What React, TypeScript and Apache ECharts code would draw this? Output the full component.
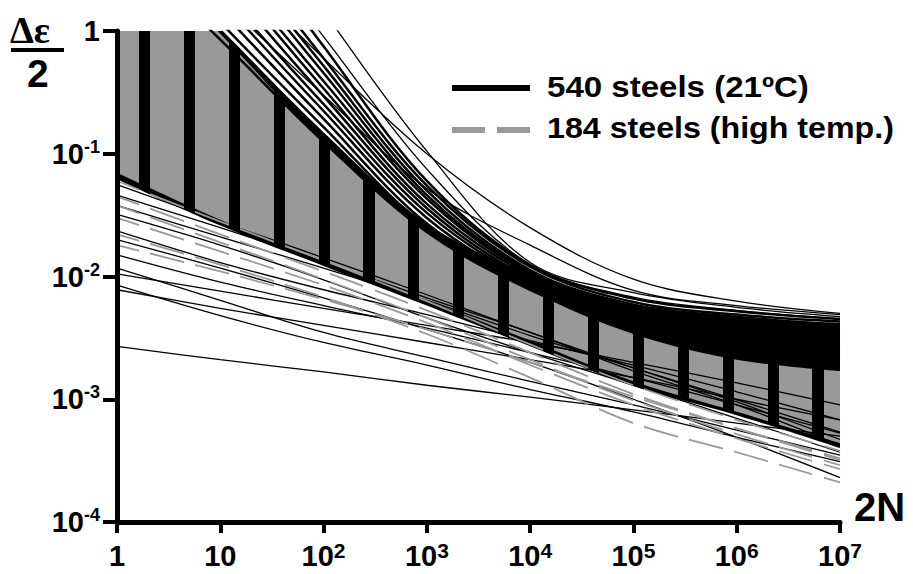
import React, { useEffect, useRef } from "react";
import * as echarts from "echarts";

// ---------------- data ----------------
// number of reversals 2N at which every curve is sampled
const cycles = [1, 10, 100, 1000, 10000, 100000, 1000000, 10000000];
const xTickLabels = ["1", "10", "10^2", "10^3", "10^4", "10^5", "10^6", "10^7"];
const yTickLabels = ["10^-4", "10^-3", "10^-2", "10^-1", "1"];
const roomLegend = "540 steels (21ºC)";
const hotLegend = "184 steels (high temp.)";

// envelope of the dense, overlapping 540-steel bundle (strain amplitude)
const roomCoreTop = [7.4, 1.05, 0.15, 0.027, 0.0105, 0.006, 0.0047, 0.0042];
const roomCoreBottom = [0.062, 0.026, 0.0122, 0.0058, 0.0027, 0.00128, 0.00074, 0.0004];
// envelope of the dense 184-steel (high temperature) bundle
const hotCoreTop = [6.8, 0.95, 0.125, 0.023, 0.0077, 0.0034, 0.0021, 0.0017];
const hotCoreBottom = [0.07, 0.029, 0.0133, 0.0064, 0.003, 0.0014, 0.00079, 0.00044];

// individual 21ºC curves on the upper side of the bundle
const roomDense = [
  [177, 10.4, 0.75, 0.06, 0.0124, 0.0066, 0.0052, 0.0045],
  [105, 7.4, 0.6, 0.055, 0.012, 0.0062, 0.0049, 0.0043],
  [76, 5.9, 0.52, 0.05, 0.0113, 0.0059, 0.0047, 0.004],
  [62, 5.0, 0.455, 0.046, 0.0109, 0.0056, 0.0044, 0.0037],
  [46, 4.0, 0.39, 0.043, 0.0105, 0.0054, 0.0041, 0.0034],
  [37, 3.4, 0.34, 0.039, 0.0101, 0.0051, 0.0038, 0.0031],
  [28, 2.75, 0.295, 0.036, 0.0096, 0.0048, 0.0035, 0.0028],
  [20.5, 2.16, 0.254, 0.033, 0.0092, 0.0045, 0.0032, 0.0026],
  [16.7, 1.82, 0.223, 0.03, 0.0088, 0.0043, 0.003, 0.0024],
  [12.6, 1.48, 0.192, 0.027, 0.0084, 0.0041, 0.0028, 0.0022],
  [9.3, 1.18, 0.165, 0.025, 0.0081, 0.0039, 0.0026, 0.0021],
  [5.5, 0.85, 0.125, 0.023, 0.0078, 0.0037, 0.0024, 0.0019],
];
// 21ºC curves standing out above the bundle
const roomUpper = [
  [370, 22, 1.45, 0.105, 0.013, 0.0074, 0.0056, 0.0047],
  [10, 1.8, 0.3, 0.052, 0.018, 0.0077, 0.0058, 0.0049],
  [25, 4, 0.6, 0.1, 0.025, 0.0095, 0.0063, 0.005],
  [155, 11, 0.9, 0.075, 0.0125, 0.0068, 0.0053, 0.0045],
];
// 21ºC curves below the bundle
const roomLower = [
  [0.0027, 0.0021, 0.00167, 0.0013, 0.00104, 0.00082, 0.00064, 0.0005],
  [0.0085, 0.0048, 0.0029, 0.0019, 0.0012, 0.00079, 0.00049, 0.00031],
  [0.0117, 0.0064, 0.0035, 0.0022, 0.0014, 0.0009, 0.00056, 0.00035],
  [0.015, 0.009, 0.0058, 0.0038, 0.0024, 0.0015, 0.0009, 0.00053],
  [0.0078, 0.0055, 0.004, 0.0029, 0.0021, 0.0015, 0.001, 0.00068],
  [0.0235, 0.013, 0.0078, 0.0049, 0.003, 0.0019, 0.00115, 0.00068],
  [0.0105, 0.0076, 0.0055, 0.004, 0.0029, 0.002, 0.00136, 0.0009],
  [0.032, 0.018, 0.0094, 0.0046, 0.0024, 0.0013, 0.0007, 0.00037],
  [0.038, 0.021, 0.0117, 0.0064, 0.0033, 0.0018, 0.00099, 0.00054],
  [0.02, 0.0117, 0.0067, 0.0037, 0.002, 0.001, 0.00049, 0.00023],
  [0.056, 0.028, 0.0142, 0.0071, 0.0035, 0.0018, 0.00095, 0.00047],
  [0.046, 0.025, 0.0131, 0.0067, 0.0035, 0.0017, 0.0009, 0.00042],
];
// high temperature curves below their bundle
const hotLower = [
  [0.022, 0.0125, 0.0068, 0.0034, 0.0015, 0.00064, 0.00037, 0.00021],
  [0.03, 0.016, 0.0085, 0.0042, 0.0019, 0.0009, 0.00048, 0.00027],
  [0.045, 0.022, 0.011, 0.0053, 0.0024, 0.0011, 0.00058, 0.00032],
  [0.06, 0.028, 0.0135, 0.0063, 0.0028, 0.0013, 0.00068, 0.00038],
  [0.018, 0.011, 0.0065, 0.0037, 0.002, 0.00105, 0.00058, 0.00033],
  [0.038, 0.019, 0.0095, 0.0046, 0.0021, 0.00098, 0.00052, 0.00029],
];

// ---------------- styling ----------------
const W = 913;
const H = 574;
const GRAY = "#999999";
const FONT = '"Liberation Sans", Arial, sans-serif';

// dash gaps of the high-temperature curves, which line up vertically
function dashGradient() {
  const clear = "rgba(153,153,153,0)";
  const stops: { offset: number; color: string }[] = [{ offset: 0, color: GRAY }];
  for (let k = 0; k < 16; k++) {
    const s = (139 + 44.9 * k) / W;
    const e = (150 + 44.9 * k) / W;
    stops.push({ offset: s, color: GRAY }, { offset: s, color: clear }, { offset: e, color: clear }, { offset: e, color: GRAY });
  }
  stops.push({ offset: 1, color: GRAY });
  return new echarts.graphic.LinearGradient(0, 0, W, 0, stops, true);
}

const rows = (vals: number[]) => cycles.map((c, i) => [vals[i], c]);

const lineCommon: any = {
  type: "line",
  smooth: 0.35,
  symbol: "none",
  showSymbol: false,
  silent: true,
  encode: { x: 1, y: 0 },
  emphasis: { disabled: true },
  animation: false,
};

function band(stack: string, top: number[], bottom: number[], color: any) {
  return [
    { ...lineCommon, name: stack + " base", stack, data: rows(bottom), lineStyle: { width: 0, opacity: 0 } },
    {
      ...lineCommon,
      name: stack,
      stack,
      data: rows(top.map((v, i) => v - bottom[i])),
      lineStyle: { width: 0, opacity: 0 },
      areaStyle: { color, opacity: 1 },
    },
  ];
}

function curves(name: string, list: number[][], lineStyle: any) {
  return list.map((vals) => ({ ...lineCommon, name, data: rows(vals), lineStyle }));
}

function rich(label: string) {
  const p = label.split("^");
  return p.length === 1 ? `{b|${p[0]}}` : `{b|${p[0]}}{s|${p[1]}}`;
}

function buildOption(): any {
  const series = [
    ...band("room", roomCoreTop, roomCoreBottom, "#000"),
    ...curves(roomLegend, roomDense, { color: "#000", width: 2.5 }),
    ...curves(roomLegend, roomLower, { color: "#000", width: 1.3 }),
    ...band("hot", hotCoreTop, hotCoreBottom, dashGradient()),
    ...curves(hotLegend, hotLower, { color: dashGradient(), width: 1.8 }),
    ...curves(roomLegend, roomUpper, { color: "#000", width: 1.3 }),
  ];

  return {
    animation: false,
    backgroundColor: "#fff",
    grid: { left: 117, right: 73, top: 31, bottom: 52, containLabel: false },
    xAxis: {
      type: "log",
      logBase: 10,
      min: 1,
      max: 1e7,
      splitNumber: 7,
      z: 10,
      axisLine: { show: true, onZero: false, lineStyle: { color: "#000", width: 5 } },
      axisTick: { show: true, length: 11, lineStyle: { color: "#000", width: 4 } },
      minorTick: { show: false },
      splitLine: { show: false },
      axisLabel: {
        margin: 18,
        formatter: (v: number) => rich(xTickLabels[Math.round(Math.log10(v))] ?? ""),
        rich: {
          b: { fontSize: 29, fontWeight: "bold", fontFamily: FONT, color: "#000", lineHeight: 32 },
          s: { fontSize: 21, fontWeight: "bold", fontFamily: FONT, color: "#000", lineHeight: 9, verticalAlign: "top" },
        },
      },
    },
    yAxis: {
      type: "log",
      logBase: 10,
      min: 1e-4,
      max: 1,
      splitNumber: 4,
      z: 10,
      axisLine: { show: true, onZero: false, lineStyle: { color: "#000", width: 5 } },
      axisTick: { show: true, length: 14, lineStyle: { color: "#000", width: 4 } },
      minorTick: { show: false },
      splitLine: { show: false },
      axisLabel: {
        margin: 17,
        formatter: (v: number) => rich(yTickLabels[Math.round(Math.log10(v)) + 4] ?? ""),
        rich: {
          b: { fontSize: 29, fontWeight: "bold", fontFamily: FONT, color: "#000", lineHeight: 32 },
          s: { fontSize: 18, fontWeight: "bold", fontFamily: FONT, color: "#000", lineHeight: 16, verticalAlign: "top" },
        },
      },
    },
    series,
    graphic: [
      { type: "text", x: 10, y: 30, z: 100, style: { text: "Δε", font: 'bold 38px "Liberation Serif", serif', fill: "#000", verticalAlign: "middle" } },
      { type: "rect", z: 100, shape: { x: 11, y: 48, width: 53, height: 4 }, style: { fill: "#000" } },
      { type: "text", x: 27, y: 73, z: 100, style: { text: "2", font: `bold 39px ${FONT}`, fill: "#000", verticalAlign: "middle" } },
      { type: "text", x: 854, y: 507, z: 100, style: { text: "2N", font: `bold 40px ${FONT}`, fill: "#000", verticalAlign: "middle" } },
      { type: "rect", z: 100, shape: { x: 452, y: 85, width: 78, height: 6 }, style: { fill: "#000" } },
      { type: "rect", z: 100, shape: { x: 452, y: 127, width: 33, height: 6 }, style: { fill: GRAY } },
      { type: "rect", z: 100, shape: { x: 497, y: 127, width: 33, height: 6 }, style: { fill: GRAY } },
      { type: "text", x: 547, y: 87, scaleX: 1.14, z: 100, style: { text: roomLegend, font: `bold 29px ${FONT}`, fill: "#000", verticalAlign: "middle" } },
      { type: "text", x: 547, y: 128, scaleX: 1.11, z: 100, style: { text: hotLegend, font: `bold 29px ${FONT}`, fill: "#000", verticalAlign: "middle" } },
    ],
  };
}

export default function App() {
  const ref = useRef<HTMLDivElement>(null);
  useEffect(() => {
    document.body.style.margin = "0";
    const chart = echarts.init(ref.current!, null, { renderer: "svg" });
    chart.setOption(buildOption());
    return () => chart.dispose();
  }, []);
  return <div ref={ref} style={{ width: W, height: H }} />;
}
